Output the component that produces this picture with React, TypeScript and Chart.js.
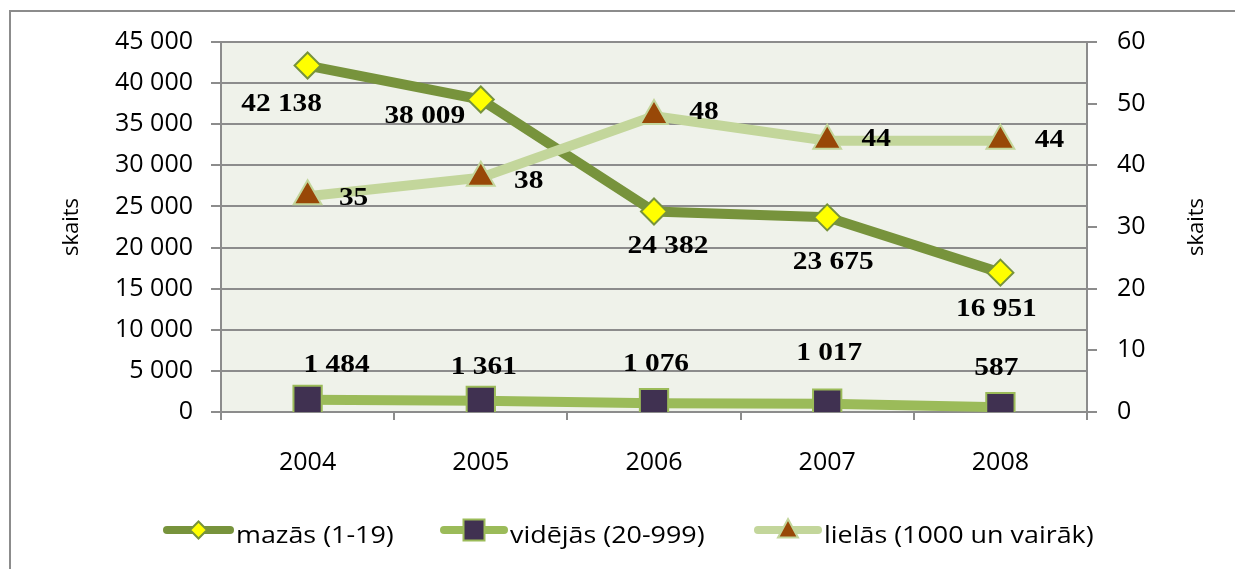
import React, { useEffect, useRef } from 'react';
import { Chart, registerables } from 'chart.js';

Chart.register(...registerables);

const years = ['2004', '2005', '2006', '2007', '2008'];
const mazas = [42138, 38009, 24382, 23675, 16951];
const videjas = [1484, 1361, 1076, 1017, 587];
const lielas = [35, 38, 48, 44, 44];
const seriesNames = ['mazās (1-19)', 'vidējās (20-999)', 'lielās (1000 un vairāk)'];
const axisTitle = 'skaits';

// label offsets (px) relative to each point
const mazasLabelOffsets = [[-26, 39], [-56, 17], [14, 35], [6, 45], [-4, 37]];
const videjasLabelOffsets = [[29, -35], [3, -34], [2, -39], [2, -50], [-4, -39]];
const lielasLabelOffsets = [[46, 2], [48, 4], [50, -4], [49, -1], [49, 0]];

const C_MAZ = '#77933C';
const C_VID = '#9BBB59';
const C_LIE = '#C3D69B';
const GRID = '#8C8C8C';
const TICK_FONT = '"Open Sans", "Noto Sans", sans-serif';
const LABEL_FONT = '"Liberation Serif", "Times New Roman", serif';

const fmt = (n: number) => String(n).replace(/\B(?=(\d{3})+(?!\d))/g, ' ');

function drawMarker(ctx: CanvasRenderingContext2D, kind: string, x: number, y: number, r: number, fill: string, stroke: string, lw: number) {
  ctx.save();
  ctx.beginPath();
  if (kind === 'diamond') {
    ctx.moveTo(x, y - r);
    ctx.lineTo(x + r, y);
    ctx.lineTo(x, y + r);
    ctx.lineTo(x - r, y);
    ctx.closePath();
  } else if (kind === 'square') {
    ctx.rect(x - r, y - r, 2 * r, 2 * r);
  } else {
    ctx.moveTo(x, y - r * 1.1);
    ctx.lineTo(x + r, y + r * 0.75);
    ctx.lineTo(x - r, y + r * 0.75);
    ctx.closePath();
  }
  ctx.fillStyle = fill;
  ctx.fill();
  ctx.lineWidth = lw;
  ctx.strokeStyle = stroke;
  ctx.stroke();
  ctx.restore();
}

function stretchText(ctx: CanvasRenderingContext2D, text: string, x: number, y: number, sx: number) {
  ctx.save();
  ctx.translate(x, y);
  ctx.scale(sx, 1);
  ctx.fillText(text, 0, 0);
  ctx.restore();
}

const decorPlugin = {
  id: 'decor',
  beforeDraw(chart: any) {
    const { ctx, chartArea } = chart;
    ctx.save();
    ctx.fillStyle = '#EFF2EA';
    ctx.fillRect(chartArea.left, chartArea.top, chartArea.right - chartArea.left, chartArea.bottom - chartArea.top);
    ctx.strokeStyle = '#8C8C8C';
    ctx.lineWidth = 2;
    ctx.beginPath();
    ctx.moveTo(10, chart.height);
    ctx.lineTo(10, 11);
    ctx.lineTo(chart.width, 11);
    ctx.stroke();
    ctx.restore();
  },
  afterDatasetsDraw(chart: any) {
    const { ctx } = chart;
    const offs = [mazasLabelOffsets, videjasLabelOffsets, lielasLabelOffsets];
    ctx.save();
    ctx.font = `bold 26px ${LABEL_FONT}`;
    ctx.fillStyle = '#000';
    ctx.textAlign = 'center';
    ctx.textBaseline = 'middle';
    chart.data.datasets.forEach((ds: any, i: number) => {
      const meta = chart.getDatasetMeta(i);
      meta.data.forEach((el: any, j: number) => {
        const o = offs[i][j];
        stretchText(ctx, fmt(ds.data[j]), el.x + o[0], el.y + o[1], 1.13);
      });
    });
    ctx.restore();
  },
  afterDraw(chart: any) {
    const { ctx, chartArea } = chart;
    ctx.save();
    // axis titles
    ctx.font = `22px ${TICK_FONT}`;
    ctx.fillStyle = '#000';
    ctx.textAlign = 'center';
    ctx.textBaseline = 'middle';
    const cy = (chartArea.top + chartArea.bottom) / 2;
    [[72, cy], [1197, cy]].forEach(([x, y]) => {
      ctx.save();
      ctx.translate(x, y);
      ctx.rotate(-Math.PI / 2);
      ctx.fillText(axisTitle, 0, 0);
      ctx.restore();
    });
    // legend
    const items = [
      { x1: 163, x2: 234, tx: 236, color: C_MAZ, kind: 'diamond', fill: '#FFFF00', stroke: C_MAZ, r: 8.5 },
      { x1: 440, x2: 508, tx: 510, color: C_VID, kind: 'square', fill: '#403151', stroke: C_VID, r: 10.5 },
      { x1: 754, x2: 822, tx: 824, color: C_LIE, kind: 'triangle', fill: '#984807', stroke: C_LIE, r: 10 },
    ];
    const ly = 530;
    items.forEach((it, i) => {
      ctx.beginPath();
      ctx.lineCap = 'round';
      ctx.lineWidth = 8;
      ctx.strokeStyle = it.color;
      ctx.moveTo(it.x1 + 4, ly);
      ctx.lineTo(it.x2 - 4, ly);
      ctx.stroke();
      drawMarker(ctx, it.kind, (it.x1 + it.x2) / 2, ly, it.r, it.fill, it.stroke, 2);
      ctx.font = `24px ${TICK_FONT}`;
      ctx.fillStyle = '#000';
      ctx.textAlign = 'left';
      ctx.textBaseline = 'middle';
      stretchText(ctx, seriesNames[i], it.tx, ly + 6, 1.12);
    });
    ctx.restore();
  },
};

export default function App() {
  const ref = useRef<HTMLCanvasElement | null>(null);
  useEffect(() => {
    if (!ref.current) return;
    const tickFont = { family: TICK_FONT, size: 25 };
    const chart = new Chart(ref.current, {
      type: 'line',
      data: {
        labels: years,
        datasets: [
          {
            label: seriesNames[0],
            data: mazas,
            yAxisID: 'y',
            borderColor: C_MAZ,
            borderWidth: 10,
            pointStyle: 'rectRot',
            pointRadius: 13,
            pointBackgroundColor: '#FFFF00',
            pointBorderColor: C_MAZ,
            pointBorderWidth: 2,
            tension: 0,
            order: 3,
          },
          {
            label: seriesNames[1],
            data: videjas,
            yAxisID: 'y',
            borderColor: C_VID,
            borderWidth: 10,
            pointStyle: 'rect',
            pointRadius: 20,
            pointBackgroundColor: '#403151',
            pointBorderColor: C_VID,
            pointBorderWidth: 2,
            tension: 0,
            order: 2,
          },
          {
            label: seriesNames[2],
            data: lielas,
            yAxisID: 'y1',
            borderColor: C_LIE,
            borderWidth: 10,
            pointStyle: 'triangle',
            pointRadius: 16,
            pointBackgroundColor: '#984807',
            pointBorderColor: C_LIE,
            pointBorderWidth: 2,
            tension: 0,
            order: 1,
          },
        ],
      },
      options: {
        responsive: true,
        maintainAspectRatio: false,
        animation: false,
        layout: { padding: { top: 42, left: 0, right: 0, bottom: 0 } },
        plugins: { legend: { display: false }, tooltip: { enabled: false } },
        scales: {
          x: {
            type: 'category',
            offset: true,
            grid: { drawOnChartArea: false, drawTicks: true, tickLength: 8, color: GRID, lineWidth: 2, offset: true },
            border: { color: GRID, width: 2 },
            ticks: { font: tickFont, color: '#000', padding: 28, maxRotation: 0 },
            afterFit: (s: any) => { s.height = 157; },
          },
          y: {
            position: 'left',
            min: 0,
            max: 45000,
            grid: { color: GRID, lineWidth: 2, tickLength: 10 },
            border: { color: GRID, width: 2 },
            ticks: { stepSize: 5000, font: tickFont, color: '#000', padding: 18, callback: (v: any) => fmt(Number(v)) },
            afterFit: (s: any) => { s.width = 221; },
          },
          y1: {
            position: 'right',
            min: 0,
            max: 60,
            grid: { drawOnChartArea: false, color: GRID, lineWidth: 2, tickLength: 10 },
            border: { color: GRID, width: 2 },
            ticks: { stepSize: 10, font: tickFont, color: '#000', padding: 20 },
            afterFit: (s: any) => { s.width = 148; },
          },
        },
      },
      plugins: [decorPlugin],
    });
    return () => chart.destroy();
  }, []);
  return (
    <div style={{ position: 'fixed', left: 0, top: 0, width: 1235, height: 569, background: '#fff' }}>
      <canvas ref={ref} />
    </div>
  );
}
